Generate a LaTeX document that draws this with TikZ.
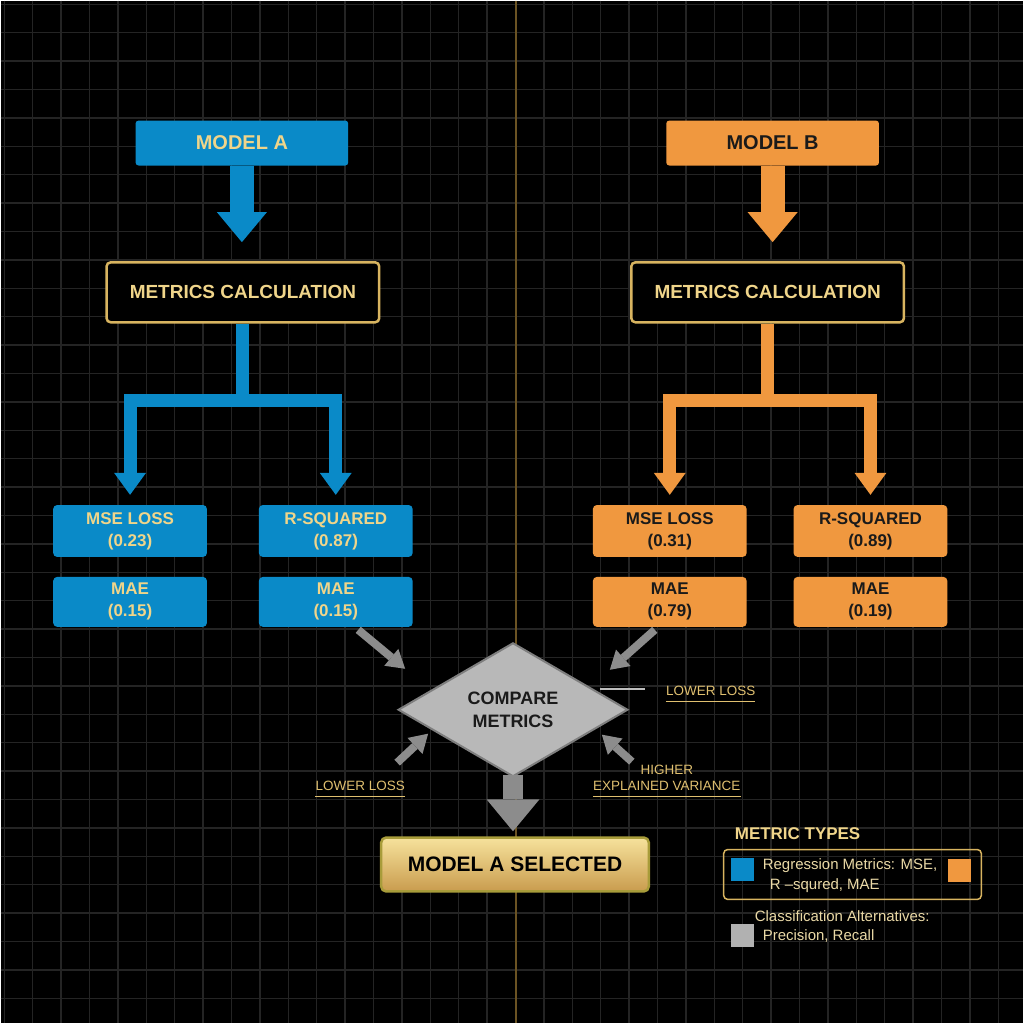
\documentclass[tikz,border=0pt]{standalone}
\usepackage{fontspec}
\setmainfont{Liberation Sans}
\usetikzlibrary{arrows.meta}
\usetikzlibrary{shapes.geometric}
\definecolor{modelblue}{HTML}{0A8AC8}
\definecolor{modelorange}{HTML}{F0983F}
\definecolor{gold}{HTML}{F0D58A}
\definecolor{goldframe}{HTML}{D8B460}
\definecolor{goldline}{HTML}{E0C070}
\definecolor{gridgray}{HTML}{242424}
\definecolor{divider}{HTML}{6B5323}
\definecolor{comparegray}{HTML}{B8B8B8}
\definecolor{compareframe}{HTML}{7E7E7E}
\definecolor{arrowgray}{HTML}{8C8C8C}
\definecolor{legendtext}{HTML}{EAD9A6}
\definecolor{darktext}{HTML}{1A1A1A}
\definecolor{selecttop}{HTML}{F6E29C}
\definecolor{selectmid}{HTML}{EACB7C}
\definecolor{selectbottom}{HTML}{C99C4E}
\definecolor{selectframe}{HTML}{A89C3A}

\begin{document}
\begin{tikzpicture}[x=1pt, y=-1pt]
            \tikzset{model box/.style={rectangle, rounded corners=3pt, inner sep=0pt, minimum width=213pt, minimum height=45pt, font={\fontsize{20}{24}\selectfont\bfseries}}};
            \tikzset{calc box/.style={rectangle, rounded corners=4pt, inner sep=0pt, draw=goldframe, line width=2.5pt, fill=black, text=gold, minimum width=273pt, minimum height=60pt, font={\fontsize{19}{23}\selectfont\bfseries}}};
            \tikzset{metric box/.style={rectangle, rounded corners=4pt, inner sep=0pt, align=center, minimum width=154pt, font={\fontsize{17}{22}\selectfont\bfseries}}};
            \tikzset{fat arrow/.style={draw=#1, line width=24pt, -{Triangle[length=30pt, width=50pt, line width=0pt]}, shorten >=19pt}};
            \tikzset{branch/.style={draw=#1, line width=13pt, line join=miter, -{Triangle[length=22pt, width=32pt, line width=0pt]}, shorten >=10pt}};
            \tikzset{hint arrow/.style={draw=arrowgray, line width=8pt, -{Triangle[length=18pt, width=22pt, line width=0pt]}}};
            \tikzset{hint label/.style={text=goldline, inner xsep=0pt, inner ysep=6pt, align=center, font={\fontsize{13.5}{16}\selectfont}}};
            \tikzset{swatch/.style={rectangle, inner sep=0pt, minimum size=23pt, fill=#1}};
            % Background and grid
            \fill[black] (0,0) rectangle (1024,1024);
            \foreach \k in {0,...,35} {
                \draw[gridgray, line width=1.5pt] ({3.6+28.44*\k},0) -- ({3.6+28.44*\k},1024);
                \draw[gridgray, line width=1.5pt] (0,{3.6+28.44*\k}) -- (1024,{3.6+28.44*\k});
            }
            \draw[divider, line width=1.2pt] (516,0) -- (516,1024);
            % Model A
            \node[model box, fill=modelblue, text=gold] (modelA) at (241.5,142.5) {MODEL A};
            \node[calc box] (calcA) at (242.5,292) {METRICS CALCULATION};
            \node[metric box, fill=modelblue, text=gold, minimum height=52pt] (mseA) at (129.5,531) {MSE LOSS\\(0.23)};
            \node[metric box, fill=modelblue, text=gold, minimum height=52pt] (rsqA) at (335.5,531) {R-SQUARED\\(0.87)};
            \node[metric box, fill=modelblue, text=gold, minimum height=50pt] (maeA) at (129.5,602) {MAE\\(0.15)};
            \node[metric box, fill=modelblue, text=gold, minimum height=50pt] (maeAA) at (335.5,602) {MAE\\(0.15)};
            \coordinate (splitA) at (242.5,400);
            \draw[fat arrow=modelblue] (modelA.south) -- (modelA.south |- calcA.north);
            \draw[branch=modelblue] (calcA.south) -- (splitA) -| (mseA.north);
            \draw[branch=modelblue] (splitA) -| (rsqA.north);
            % Model B
            \node[model box, fill=modelorange, text=darktext] (modelB) at (773,142.5) {MODEL B};
            \node[calc box] (calcB) at (768,292) {METRICS CALCULATION};
            \node[metric box, fill=modelorange, text=darktext, minimum height=52pt] (mseB) at (670,531) {MSE LOSS\\(0.31)};
            \node[metric box, fill=modelorange, text=darktext, minimum height=52pt] (rsqB) at (871,531) {R-SQUARED\\(0.89)};
            \node[metric box, fill=modelorange, text=darktext, minimum height=50pt] (maeB) at (670,602) {MAE\\(0.79)};
            \node[metric box, fill=modelorange, text=darktext, minimum height=50pt] (maeBB) at (871,602) {MAE\\(0.19)};
            \coordinate (splitB) at (768,400);
            \draw[fat arrow=modelorange] (modelB.south) -- (modelB.south |- calcB.north);
            \draw[branch=modelorange] (calcB.south) -- (splitB) -| (mseB.north);
            \draw[branch=modelorange] (splitB) -| (rsqB.north);
            % Comparison
            \node[diamond, aspect=1.72, inner sep=0pt, minimum width=230pt, minimum height=134pt, fill=comparegray, draw=compareframe, line width=2pt, align=center, text=darktext, font={\fontsize{18}{23}\selectfont\bfseries}] (cmp) at (513,710) {COMPARE\\METRICS};
            \node[rectangle, rounded corners=5pt, minimum width=268pt, minimum height=54pt, top color=selecttop, middle color=selectmid, bottom color=selectbottom, draw=selectframe, line width=2.5pt, text=black, font={\fontsize{21}{25}\selectfont\bfseries}] (sel) at (515,865) {MODEL A SELECTED};
            \draw[draw=arrowgray, line width=20pt, -{Triangle[length=32pt, width=53pt, line width=0pt]}, shorten >=5pt] ([yshift=3pt]cmp.south) -- (cmp.south |- sel.north);
            \coordinate (inA) at (358,630);
            \coordinate (inAtip) at (405,669);
            \coordinate (inB) at (655,630);
            \coordinate (inBtip) at (610,670);
            \coordinate (lowL) at (397,763);
            \coordinate (lowLtip) at (428,734);
            \coordinate (highR) at (632,762);
            \coordinate (highRtip) at (602,735);
            \draw[hint arrow] (inA) -- (inAtip);
            \draw[hint arrow] (inB) -- (inBtip);
            \draw[hint arrow] (lowL) -- (lowLtip);
            \draw[hint arrow] (highR) -- (highRtip);
            % Hint labels
            \node[hint label] (lossR) at (711,691) {LOWER LOSS};
            \node[hint label] (lossL) at (360,786) {LOWER LOSS};
            \node[hint label] (varR) at (667,778) {HIGHER\\EXPLAINED VARIANCE};
            \draw[goldline, line width=1.5pt] (lossR.south west) -- (lossR.south east);
            \draw[goldline, line width=1.5pt] (lossL.south west) -- (lossL.south east);
            \draw[goldline, line width=1.5pt] (varR.south west) -- (varR.south east);
            \coordinate (tickL) at (600,689);
            \coordinate (tickR) at (645,689);
            \draw[lightgray, line width=2pt] (tickL) -- (tickR);
            % Legend
            \node[text=gold, font={\fontsize{17}{20}\selectfont\bfseries}] (legtitle) at (798,834) {METRIC TYPES};
            \node[rectangle, rounded corners=4pt, draw=goldframe, line width=1.5pt, minimum width=258pt, minimum height=50pt] (legbox) at (853,875) {};
            \node[swatch=modelblue] (regA) at (743,870) {};
            \node[swatch=modelorange] (regB) at (960.5,871) {};
            \node[anchor=west, align=left, inner sep=0pt, text=legendtext, font={\fontsize{15}{20}\selectfont}] (regtext) at (763,876) {Regression Metrics: MSE,\\\hspace{7pt}R –squred, MAE};
            \node[swatch={comparegray!110}] (cls) at (742.5,936.5) {};
            \node[anchor=west, align=left, inner sep=0pt, text=legendtext, font={\fontsize{15}{19}\selectfont}] (clstext) at (755,927.5) {Classification Alternatives:\\\hspace{8pt}Precision, Recall};
\end{tikzpicture}
\end{document}
